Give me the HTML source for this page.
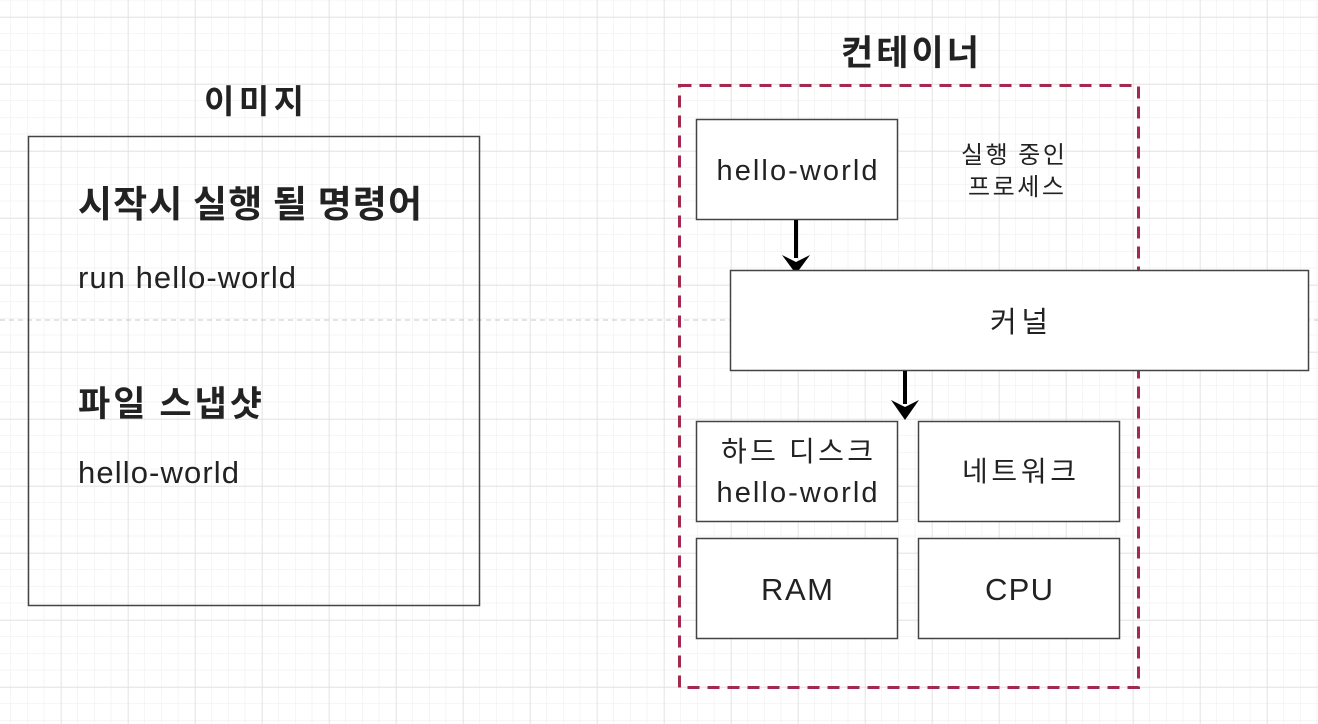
<!DOCTYPE html>
<html><head><meta charset="utf-8"><style>
html,body{margin:0;padding:0;background:#fff;}
svg{display:block}
text{font-family:"Liberation Sans","Noto Sans CJK KR",sans-serif;fill:#222;}
.k{font-family:"Noto Sans CJK KR","Liberation Sans",sans-serif;}
</style></head><body>
<svg width="1318" height="724" viewBox="0 0 1318 724" xmlns="http://www.w3.org/2000/svg">
<defs>
<pattern id="minor" x="10.75" y="0.25" width="16.75" height="16.75" patternUnits="userSpaceOnUse">
<path d="M16.75 0V16.75M0 16.75H16.75" stroke="#ececec" stroke-width="1" fill="none"/>
</pattern>
<pattern id="major" x="-6" y="17" width="67" height="67" patternUnits="userSpaceOnUse">
<path d="M0 0V67M0 0H67" stroke="#dedede" stroke-width="1.2" fill="none"/>
</pattern>
</defs>
<rect width="1318" height="724" fill="#fff"/>
<rect width="1318" height="724" fill="url(#minor)"/>
<rect width="1318" height="724" fill="url(#major)"/>
<line x1="0" y1="320" x2="1318" y2="320" stroke="#c8c8c8" stroke-width="1" stroke-dasharray="5,4"/>

<!-- Image -->
<text class="k" x="254" y="113" text-anchor="middle" font-size="33" font-weight="bold" textLength="100">이미지</text>
<rect x="28.5" y="136.5" width="451" height="469" fill="none" stroke="#444" stroke-width="1.5"/>
<text class="k" x="78" y="217" font-size="37" font-weight="bold" textLength="344">시작시 실행 될 명령어</text>
<text x="78" y="288" font-size="31" textLength="218">run hello-world</text>
<text class="k" x="78" y="416" font-size="35" font-weight="bold" textLength="184">파일 스냅샷</text>
<text x="78" y="483" font-size="31" textLength="161">hello-world</text>

<!-- Container -->
<text class="k" x="910" y="65" text-anchor="middle" font-size="35" font-weight="bold" textLength="138">컨테이너</text>
<rect x="679.5" y="85.5" width="459" height="602" fill="none" stroke="#a3294e" stroke-width="3" stroke-dasharray="12,8"/>

<rect x="696.5" y="119.5" width="201" height="100" fill="#fff" stroke="#444" stroke-width="1.5"/>
<text x="797" y="180" text-anchor="middle" font-size="29" textLength="161">hello-world</text>
<text class="k" x="1013" y="163" text-anchor="middle" font-size="24" fill="#333" textLength="104">실행 중인</text>
<text class="k" x="1016" y="195" text-anchor="middle" font-size="24" fill="#333" textLength="96">프로세스</text>

<line x1="796" y1="220" x2="796" y2="258" stroke="#000" stroke-width="4"/>
<path d="M782 255 L796 274 L810 255 L796 262 Z" fill="#000"/>

<rect x="730.5" y="270.5" width="578" height="100" fill="#fff" stroke="#444" stroke-width="1.5"/>
<text class="k" x="1019" y="332" text-anchor="middle" font-size="29" textLength="58">커널</text>

<line x1="905" y1="371" x2="905" y2="404" stroke="#000" stroke-width="4"/>
<path d="M891 400 L905 420 L919 400 L905 407 Z" fill="#000"/>

<rect x="696.5" y="421.5" width="201" height="100" fill="#fff" stroke="#444" stroke-width="1.5"/>
<text class="k" x="797" y="461" text-anchor="middle" font-size="28" textLength="152">하드 디스크</text>
<text x="797" y="502" text-anchor="middle" font-size="29" textLength="161">hello-world</text>
<rect x="918.5" y="421.5" width="201" height="100" fill="#fff" stroke="#444" stroke-width="1.5"/>
<text class="k" x="1019" y="481" text-anchor="middle" font-size="28" textLength="114">네트워크</text>
<rect x="696.5" y="538.5" width="201" height="100" fill="#fff" stroke="#444" stroke-width="1.5"/>
<text x="797" y="600" text-anchor="middle" font-size="31" textLength="72">RAM</text>
<rect x="918.5" y="538.5" width="201" height="100" fill="#fff" stroke="#444" stroke-width="1.5"/>
<text x="1019" y="600" text-anchor="middle" font-size="31" textLength="68">CPU</text>
</svg>
</body></html>
